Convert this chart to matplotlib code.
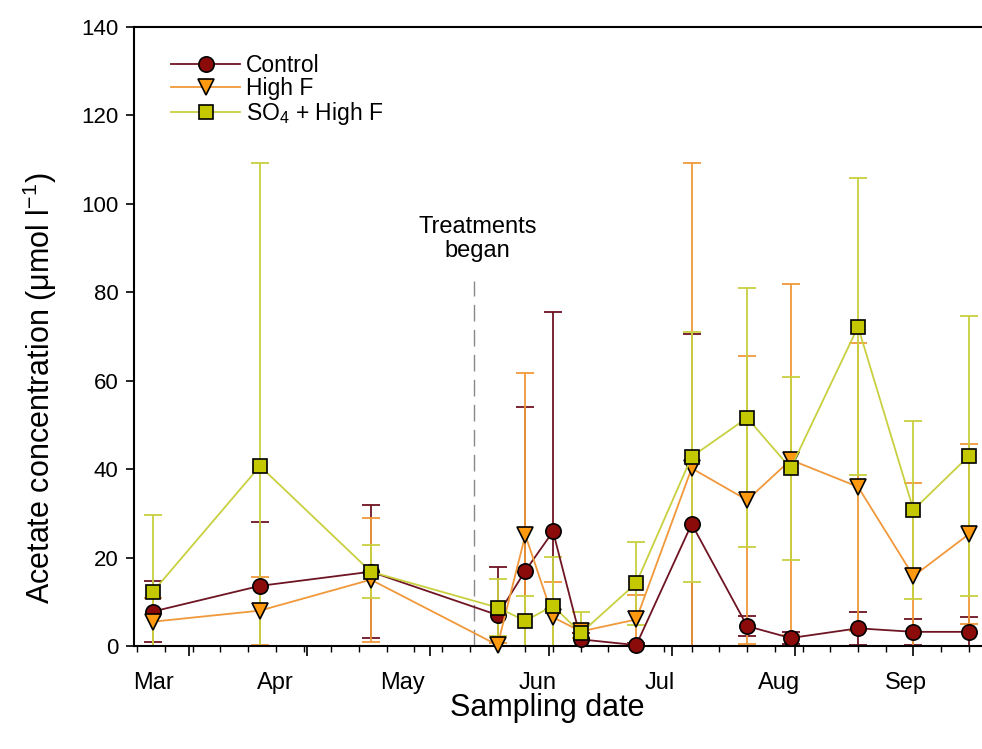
import numpy as np
import pandas as pd
import matplotlib
matplotlib.use("Agg")
import matplotlib.pyplot as plt
import matplotlib.transforms as mtransforms

plt.rcParams['font.family'] = ['Liberation Sans', 'DejaVu Sans']
plt.rcParams['mathtext.fontset'] = 'custom'
plt.rcParams['mathtext.rm'] = 'Liberation Sans'
plt.rcParams['mathtext.default'] = 'regular'

# sampling dates
sample_dates = ['2011-03-23', '2011-04-19', '2011-05-17', '2011-06-18', '2011-06-25',
                '2011-07-02', '2011-07-09', '2011-07-23', '2011-08-06', '2011-08-20',
                '2011-08-31', '2011-09-17', '2011-10-01', '2011-10-15']
treatment_date = '2011-06-12'

control = [7.8, 13.6, 16.8, 7.0, 17.0, 25.9, 1.5, 0.2, 27.6, 4.5, 1.8, 4.0, 3.2, 3.2]
control_err = [6.9, 14.4, 15.0, 10.9, 37.1, 49.7, 1.5, 0.5, 42.9, 2.2, 1.4, 3.8, 3.0, 3.4]

high_f = [5.5, 8.0, 15.0, 0.2, 25.1, 6.5, 3.3, 6.0, 40.2, 33.0, 42.1, 36.0, 15.8, 25.3]
high_f_err = [5.4, 7.7, 14.0, 0.5, 36.7, 8.0, 1.4, 5.5, 69.1, 32.6, 39.7, 32.6, 21.1, 20.4]

so4_high_f = [12.3, 40.7, 16.8, 8.7, 5.7, 9.1, 2.9, 14.2, 42.8, 51.6, 40.2, 72.2, 30.8, 43.0]
so4_high_f_err = [17.3, 68.5, 6.0, 6.5, 5.6, 11.1, 4.9, 9.4, 28.3, 29.3, 20.7, 33.6, 20.2, 31.7]

month_labels = ['Mar', 'Apr', 'May', 'Jun', 'Jul', 'Aug', 'Sep']
month_label_dates = ['2011-03-23', '2011-04-23', '2011-05-25', '2011-06-28',
                     '2011-07-29', '2011-08-28', '2011-09-29']
month_starts = ['2011-04-01', '2011-05-01', '2011-06-01', '2011-07-01',
                '2011-08-01', '2011-09-01', '2011-10-01']

origin = pd.Timestamp('2011-03-01')
def to_days(d):
    return np.asarray((pd.to_datetime(d) - origin) / pd.Timedelta(days=1), dtype=float)

x = to_days(sample_dates)

fig = plt.figure(figsize=(9.82, 7.49), dpi=100)
ax = fig.add_axes([134/982, 1 - 646/749, 1 - 134/982, (646 - 27)/749])

series = [
    ('Control', control, control_err, 'o', '#8b0a0a', '#6e1422', 11),
    ('High F', high_f, high_f_err, 'v', '#ff9a10', '#f0983a', 11.5),
    ('SO$_4$ + High F', so4_high_f, so4_high_f_err, 's', '#c4c800', '#c8d040', 10.5),
]

# error bars first (clipped at the axis), then lines and markers
for i, (lab, m, e, mk, fc, lc, ms) in enumerate(series):
    ax.errorbar(x, m, yerr=e, fmt='none', ecolor=lc, elinewidth=1.3,
                capsize=6.5, capthick=1.3, zorder=1 + i * 0.1)

handles = []
for i, (lab, m, e, mk, fc, lc, ms) in enumerate(series):
    h, = ax.plot(x, m, color=lc, lw=1.3, marker=mk, markersize=ms,
                 markerfacecolor=fc, markeredgecolor='black', markeredgewidth=1.2,
                 label=lab, zorder=3 + i, clip_on=False)
    handles.append(h)

# treatment start line
td = to_days([treatment_date])[0]
ax.plot([td, td], [0, 82.5], color='#888888', lw=1.0, dashes=(12, 6), zorder=0)
ax.text(td + 1, 92, 'Treatments\nbegan', ha='center', va='center',
        fontsize=17, linespacing=1.1)

ax.set_ylim(0, 140)
ax.set_xlim(17.2, 231.3)
ax.set_yticks(np.arange(0, 141, 20))
ax.set_xticks(to_days(month_starts))
ax.set_xticks(np.arange(18, 232, 7), minor=True)
ax.set_xticklabels([])
ax.tick_params(axis='y', direction='out', length=6, width=1.2, labelsize=16, pad=5)
ax.tick_params(axis='x', which='major', direction='out', length=7, width=1.2)
ax.tick_params(axis='x', which='minor', direction='out', length=4, width=1.0)

trans = mtransforms.blended_transform_factory(ax.transData, ax.transAxes)
for lab, d in zip(month_labels, to_days(month_label_dates)):
    ax.text(d, -0.06, lab, transform=trans, ha='center', va='center', fontsize=17)

for s in ['left', 'bottom', 'top']:
    ax.spines[s].set_linewidth(1.5)
ax.spines['right'].set_visible(False)

fig.text(40/982, 1 - 388/749, 'Acetate concentration (μmol l$^{-1}$)',
         rotation=90, ha='center', va='center', fontsize=22)
fig.text(547/982, 1 - 708/749, 'Sampling date', ha='center', va='center', fontsize=22)

ax.legend(handles=handles, loc='upper left', bbox_to_anchor=(160/982, 1 - 43/749),
          bbox_transform=fig.transFigure, frameon=False, fontsize=16.5,
          handlelength=3.0, handletextpad=0.25, labelspacing=0.0, borderpad=0)

fig.savefig('out.png', dpi=100)
